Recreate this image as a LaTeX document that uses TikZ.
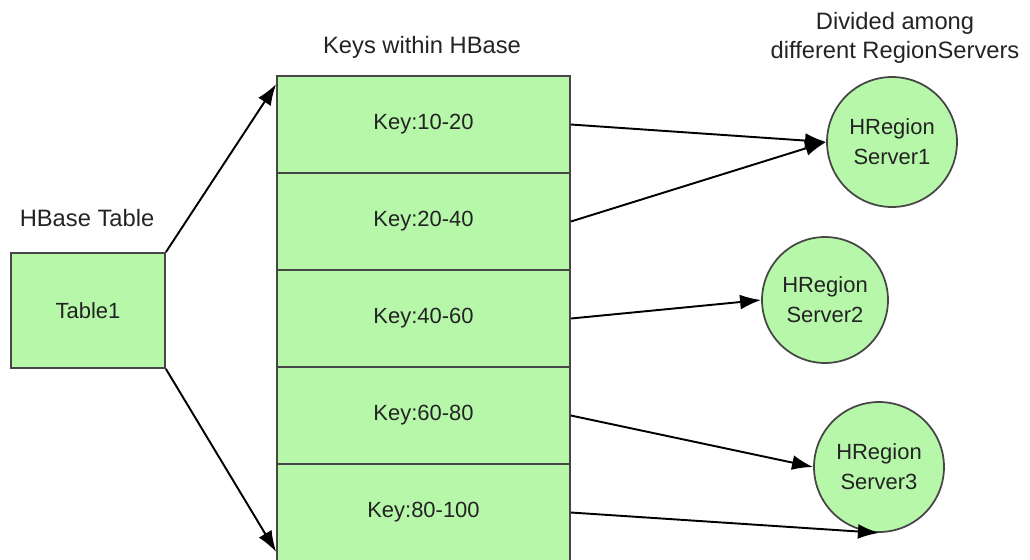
\documentclass[tikz,border=0pt]{standalone}
\usepackage{fontspec}
\setmainfont{Liberation Sans}
\usetikzlibrary{arrows.meta, positioning}
\definecolor{boxgreen}{RGB}{183,247,170}
\definecolor{edgegray}{RGB}{70,70,70}
\definecolor{textgray}{RGB}{35,35,35}

\begin{document}
\begin{tikzpicture}[x=0.02cm, y=-0.02cm,
    keybox/.style={draw=edgegray, fill=boxgreen, line width=1pt, text=textgray,
        minimum width=5.86cm, minimum height=1.94cm, inner sep=0pt,
        font=\fontsize{12.5}{15}\selectfont},
    server/.style={circle, draw=edgegray, fill=boxgreen, line width=1pt, text=textgray,
        minimum size=2.6cm, inner sep=0pt, align=center,
        font=\fontsize{12.5}{17}\selectfont},
    title/.style={text=textgray, align=center, font=\fontsize{13.5}{16.5}\selectfont},
    link/.style={-{Latex[length=12pt, width=8.5pt]}, line width=1.1pt, black}]

        \useasboundingbox (0,0) rectangle (1030,559);

        \node[keybox, minimum width=3.08cm, minimum height=2.3cm] (table) at (88,310.5) {Table1};
        \foreach \lo/\hi [count=\i] in {10/20, 20/40, 40/60, 60/80, 80/100}
            \node[keybox] (k\i) at (423.5,27.5+97*\i) {Key:\lo-\hi};

        \node[server] (s1) at (892,142) {HRegion\\Server1};
        \node[server, minimum size=2.52cm] (s2) at (825,300) {HRegion\\Server2};
        \node[server] (s3) at (879,467) {HRegion\\Server3};

        \node[title] (tabletitle) at (87,218) {HBase Table};
        \node[title] (keytitle) at (422,47) {Keys within HBase};
        \node[title] (servertitle) at (895,38) {Divided among\\different RegionServers};

        \draw[link] (table.north east) -- ([yshift=-0.18cm]k1.north west);
        \draw[link] (table.south east) -- ([yshift=0.2cm]k5.south west);
        \draw[link] (k1.east) -- (s1.west);
        \draw[link] (k2.east) -- (s1.west);
        \draw[link] (k3.east) -- (s2.west);
        \draw[link] (k4.east) -- (s3.west);
        \draw[link] (k5.east) -- (s3.south);
    \end{tikzpicture}
\end{document}
